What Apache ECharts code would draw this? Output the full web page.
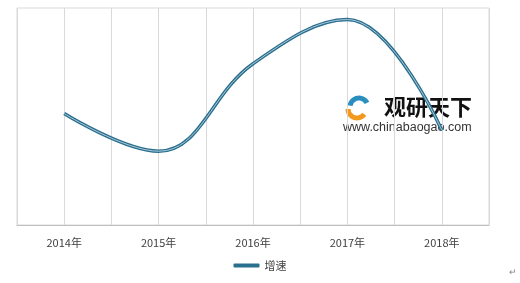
<!DOCTYPE html>
<html>
<head>
<meta charset="utf-8">
<script src="https://cdn.jsdelivr.net/npm/echarts@6/dist/echarts.min.js"></script>
<style>
    html, body { margin: 0; padding: 0; background: #fff; }
    #chart { width: 520px; height: 283px; }
</style>
</head>
<body>
<div id="chart"></div>
<script>
    // 年份 & 增速 (读图估算)
    var years = ['2014年', '2015年', '2016年', '2017年', '2018年'];
    var growth = [15.4, 10.2, 22.3, 28.4, 13.1];
    var seriesName = '增速';

    var points = growth.map(function (v, i) { return [i, v]; });

    var chart = echarts.init(document.getElementById('chart'));
    chart.setOption({
        animation: false,
        textStyle: { fontFamily: '"Noto Sans CJK SC", sans-serif' },
        grid: {
            left: 17, right: 31, top: 8, bottom: 58,
            show: true,
            borderColor: '#d9d9d9',
            borderWidth: 1
        },
        legend: {
            data: [seriesName],
            bottom: 7,
            left: 'center',
            itemWidth: 26,
            itemHeight: 4,
            itemGap: 4,
            textStyle: { fontSize: 11, color: '#404040' },
            icon: 'roundRect'
        },
        xAxis: {
            type: 'value',
            min: -0.5,
            max: 4.5,
            interval: 0.5,
            axisLine: { show: true, lineStyle: { color: '#bfbfbf' } },
            axisTick: { show: false },
            axisLabel: {
                margin: 12,
                fontSize: 11,
                color: '#404040',
                formatter: function (v) {
                    return Number.isInteger(v) ? years[v] : '';
                }
            },
            splitLine: { show: true, lineStyle: { color: '#d9d9d9' } }
        },
        yAxis: {
            type: 'value',
            min: 0,
            max: 30,
            show: false
        },
        series: [{
            name: seriesName,
            type: 'line',
            data: points,
            smooth: 0.4,
            symbol: 'none',
            color: '#2b6f8e',
            lineStyle: { width: 3.5, color: '#2b6f8e' },
            z: 2
        }, {
            name: 'inner',
            type: 'line',
            data: points,
            smooth: 0.4,
            symbol: 'none',
            silent: true,
            lineStyle: { width: 1, color: '#a9cadb' },
            z: 3
        }],
        graphic: [{
            type: 'arc',
            shape: { cx: 357, cy: 109, r: 9, startAngle: Math.PI * 0.2, endAngle: Math.PI * 1.0 },
            style: { stroke: '#f39a1e', lineWidth: 5, fill: null }
        }, {
            type: 'arc',
            shape: { cx: 359, cy: 107, r: 9, startAngle: Math.PI * 1.05, endAngle: Math.PI * 1.85 },
            style: { stroke: '#2a8fbf', lineWidth: 5, fill: null }
        }, {
            type: 'text',
            left: 384,
            top: 96,
            style: {
                text: '观研天下',
                fontSize: 22,
                fontWeight: 'bold',
                fill: '#111',
                fontFamily: '"Noto Sans CJK SC", sans-serif'
            }
        }, {
            type: 'text',
            left: 343,
            top: 121,
            style: {
                text: 'www.chinabaogao.com',
                fontSize: 12.5,
                fill: '#333',
                fontFamily: 'Arial, "Liberation Sans", sans-serif'
            }
        }, {
            type: 'text',
            left: 509,
            top: 268,
            style: { text: '↵', fontSize: 9, fill: '#888' }
        }]
    });
</script>
</body>
</html>
